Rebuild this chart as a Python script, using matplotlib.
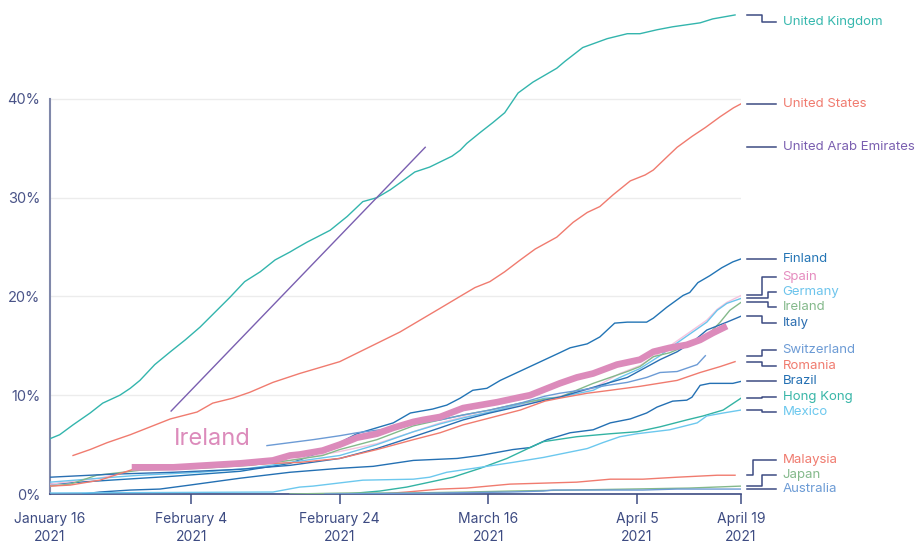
import numpy as np
import matplotlib.pyplot as plt

plt.rcParams['font.family'] = ['Inter', 'DejaVu Sans']

# days since January 16 2021, share of population with a first dose (%)
uk_d = [0, 1.3, 3.1, 5.4, 7.1, 9.4, 10.8, 12.1, 14.1, 16.2, 18.2, 20.2, 22.2, 24.2, 26.2, 28.3,
        30.3, 32.3, 33.2, 34.6, 35.9, 37.7, 40.0, 42.1, 44.0, 45.8, 47.1, 49.1, 51.1, 54.1, 55.2,
        56.1, 57.9, 59.6, 61.2, 63.0, 65.0, 68.2, 69.3, 71.7, 75.0, 77.7, 79.4, 81.7, 83.8, 87.5,
        89.2, 92.2]
uk = [5.6, 6.0, 7.0, 8.2, 9.2, 10.0, 10.7, 11.5, 13.1, 14.4, 15.6, 16.9, 18.4, 19.9, 21.5, 22.5,
      23.7, 24.5, 24.9, 25.5, 26.0, 26.7, 28.1, 29.6, 30.0, 30.8, 31.5, 32.6, 33.1, 34.2, 34.8,
      35.5, 36.6, 37.6, 38.6, 40.6, 41.7, 43.1, 43.8, 45.2, 46.1, 46.6, 46.6, 47.0, 47.3, 47.7,
      48.1, 48.5]

us_d = [3.1, 5.4, 7.7, 10.8, 13.5, 16.2, 19.8, 21.9, 24.6, 26.9, 30.0, 33.6, 36.3, 39.0, 41.7,
        44.4, 47.1, 49.8, 52.5, 55.4, 57.2, 59.2, 61.2, 63.3, 65.3, 68.2, 70.4, 72.3, 74.0, 75.8,
        78.1, 80.1, 81.2, 83.0, 84.4, 86.4, 88.2, 90.2, 92.0, 93.0]
us = [3.9, 4.5, 5.2, 6.0, 6.8, 7.6, 8.3, 9.2, 9.7, 10.3, 11.3, 12.2, 12.8, 13.4, 14.4, 15.4, 16.4,
      17.6, 18.8, 20.1, 20.9, 21.5, 22.5, 23.7, 24.8, 26.0, 27.5, 28.5, 29.1, 30.3, 31.7, 32.3,
      32.8, 34.1, 35.1, 36.2, 37.1, 38.2, 39.1, 39.5]

uae_d = [16.3, 50.5]
uae = [8.4, 35.1]

finland_d = [0, 8.1, 16.6, 25.6, 32.3, 36.7, 41.3, 44.4, 46.2, 48.5, 51.5, 53.4, 55.2, 56.9, 58.8,
             60.6, 64.6, 68.6, 70.0, 72.3, 74.0, 76.0, 77.7, 80.3, 81.2, 83.0, 85.2, 86.1, 87.2,
             88.8, 90.4, 91.9, 93.0]
finland = [1.0, 1.4, 1.8, 2.3, 3.1, 4.3, 6.1, 6.8, 7.2, 8.2, 8.6, 9.0, 9.7, 10.5, 10.7, 11.5, 12.9,
           14.3, 14.8, 15.2, 15.9, 17.3, 17.4, 17.4, 17.8, 18.9, 20.1, 20.4, 21.4, 22.1, 22.9,
           23.5, 23.8]

spain_d = [0, 6.7, 11.2, 16.6, 25.6, 32.3, 39.0, 44.0, 48.9, 52.5, 55.6, 59.2, 63.3, 66.6, 68.6,
           73.1, 76.7, 79.4, 82.1, 84.4, 86.5, 88.4, 89.8, 91.1, 93.0]
spain = [1.0, 1.6, 2.4, 2.6, 2.9, 3.4, 4.3, 5.1, 6.3, 7.2, 7.8, 8.3, 9.0, 9.5, 9.9, 10.7, 12.2,
         13.0, 14.3, 15.5, 16.6, 17.6, 18.7, 19.4, 20.1]

germany_d = [0, 6.7, 12.1, 20.2, 26.9, 32.3, 39.0, 44.0, 48.9, 52.5, 55.6, 59.2, 63.3, 66.6, 68.6,
             73.1, 76.7, 79.4, 82.1, 84.4, 86.5, 88.4, 89.8, 91.1, 93.0]
germany = [1.2, 1.6, 1.9, 2.2, 2.6, 3.2, 3.9, 5.0, 6.3, 7.1, 7.7, 8.3, 9.1, 9.7, 9.8, 10.5, 11.8,
           12.7, 14.0, 15.3, 16.4, 17.4, 18.6, 19.3, 19.8]

ireland_d = [0, 2.7, 6.3, 12.1, 20.2, 26.9, 32.3, 36.7, 39.0, 44.0, 48.9, 52.5, 55.6, 59.2, 63.3,
             66.6, 68.6, 73.1, 77.7, 79.4, 81.2, 83.4, 86.5, 88.8, 90.2, 91.5, 93.0]
ireland = [0.8, 1.0, 1.9, 2.4, 2.6, 2.9, 3.4, 3.9, 4.5, 5.5, 6.9, 7.5, 8.0, 8.5, 9.2, 9.6, 9.8,
           11.2, 12.4, 12.9, 13.9, 14.3, 15.3, 16.3, 17.4, 18.6, 19.4]

italy_d = [0, 8.1, 16.6, 25.6, 32.3, 39.0, 44.0, 48.9, 52.5, 55.6, 59.2, 63.3, 66.6, 68.6, 73.1,
           77.7, 82.1, 84.4, 86.5, 88.4, 91.1, 93.0]
italy = [1.7, 2.0, 2.2, 2.5, 2.9, 3.6, 4.6, 5.8, 6.7, 7.5, 8.2, 8.9, 9.5, 9.8, 10.8, 11.8, 13.6,
         14.4, 15.4, 16.6, 17.4, 18.0]

swiss_d = [29.2, 32.3, 35.4, 39.0, 41.3, 44.4, 48.9, 52.5, 55.6, 59.2, 63.3, 66.6, 68.6, 71.3,
           75.0, 77.7, 80.3, 82.1, 84.4, 87.1, 88.2]
swiss = [4.9, 5.2, 5.5, 5.9, 6.2, 6.5, 7.1, 7.5, 8.0, 8.5, 9.2, 9.9, 10.2, 10.5, 11.0, 11.3, 11.8,
         12.3, 12.4, 13.1, 14.0]

romania_d = [0, 2.7, 6.7, 11.2, 16.6, 21.1, 25.6, 30.0, 33.6, 39.0, 44.0, 48.9, 52.5, 55.6, 59.2,
             63.3, 66.6, 68.6, 72.3, 75.4, 79.4, 84.4, 87.5, 90.2, 92.2]
romania = [0.8, 0.9, 1.4, 2.5, 2.7, 2.8, 2.9, 3.1, 3.2, 3.6, 4.5, 5.5, 6.2, 7.0, 7.7, 8.5, 9.4,
           9.7, 10.2, 10.5, 10.9, 11.5, 12.3, 12.9, 13.4]

brazil_d = [4.4, 6.7, 10.8, 14.8, 18.8, 25.6, 32.3, 39.0, 43.5, 48.9, 54.8, 57.9, 62.3, 64.6,
            66.9, 70.0, 73.1, 75.4, 78.1, 80.3, 81.7, 83.8, 85.7, 86.4, 87.5, 88.8, 91.9, 93.0]
brazil = [0, 0.2, 0.4, 0.5, 0.9, 1.6, 2.2, 2.6, 2.8, 3.4, 3.6, 3.9, 4.5, 4.7, 5.5, 6.2, 6.5, 7.2,
          7.6, 8.2, 8.8, 9.4, 9.5, 9.8, 11.0, 11.2, 11.2, 11.4]

hk_d = [39.7, 41.3, 44.4, 48.0, 51.1, 54.2, 57.9, 61.5, 64.6, 66.4, 70.9, 75.4, 79.0, 82.1, 85.7,
        87.9, 90.6, 93.0]
hk = [0, 0.1, 0.3, 0.7, 1.2, 1.7, 2.6, 3.6, 4.7, 5.3, 5.8, 6.1, 6.3, 6.8, 7.5, 7.9, 8.5, 9.7]

mexico_d = [0, 30.0, 33.6, 35.4, 42.1, 48.9, 51.1, 53.4, 57.9, 62.3, 66.4, 72.3, 74.4, 76.7, 79.0,
            83.4, 87.1, 88.4, 90.6, 93.0]
mexico = [0.1, 0.2, 0.7, 0.8, 1.4, 1.5, 1.7, 2.2, 2.7, 3.2, 3.7, 4.6, 5.2, 5.8, 6.1, 6.5, 7.2, 7.9,
          8.2, 8.5]

malaysia_d = [39.0, 44.4, 48.0, 52.5, 56.1, 61.9, 66.4, 70.9, 75.4, 79.8, 84.4, 89.8, 92.2]
malaysia = [0, 0, 0.2, 0.5, 0.6, 1.0, 1.1, 1.2, 1.5, 1.5, 1.7, 1.9, 1.9]

japan_d = [32.3, 40.0, 48.0, 56.0, 62.0, 70.0, 78.0, 86.0, 93.0]
japan = [0, 0.1, 0.1, 0.2, 0.3, 0.4, 0.5, 0.6, 0.8]

australia_d = [37.0, 52.5, 61.9, 66.4, 67.7, 73.1, 79.8, 84.4, 89.8, 93.0]
australia = [0, 0.1, 0.2, 0.3, 0.4, 0.4, 0.4, 0.5, 0.5, 0.5]

# highlighted Ireland series
irl_d = [11.0, 16.6, 21.1, 25.6, 30.0, 32.3, 33.6, 36.7, 39.0, 41.3, 44.0, 46.2, 48.9, 50.2, 52.5,
         55.6, 57.9, 60.2, 63.3, 64.6, 68.6, 70.9, 73.1, 76.3, 79.4, 81.2, 83.4, 85.7, 87.5, 89.2,
         91.1]
irl = [2.7, 2.7, 2.9, 3.1, 3.4, 3.9, 4.0, 4.4, 5.0, 5.7, 6.1, 6.7, 7.3, 7.5, 7.8, 8.7, 9.0, 9.3,
       9.8, 10.0, 11.2, 11.8, 12.2, 13.1, 13.6, 14.4, 14.8, 15.1, 15.6, 16.3, 17.0]

names = ['United Kingdom', 'United States', 'United Arab Emirates', 'Finland', 'Spain', 'Germany',
         'Ireland', 'Italy', 'Switzerland', 'Romania', 'Brazil', 'Hong Kong', 'Mexico',
         'Malaysia', 'Japan', 'Australia']
series = [(uk_d, uk), (us_d, us), (uae_d, uae), (finland_d, finland), (spain_d, spain),
          (germany_d, germany), (ireland_d, ireland), (italy_d, italy), (swiss_d, swiss),
          (romania_d, romania), (brazil_d, brazil), (hk_d, hk), (mexico_d, mexico),
          (malaysia_d, malaysia), (japan_d, japan), (australia_d, australia)]
line_colors = ['#33b5ad', '#f07b6f', '#7a5fb0', '#2274b5', '#f5c3de', '#6cc4ec', '#84b98b',
               '#2a6fb2', '#6c9bd5', '#f07b6f', '#2470b3', '#33b3a3', '#6cc8ee', '#f07b6f',
               '#84b98b', '#6c9bd5']
text_colors = ['#37b8ae', '#f07b6f', '#7a5fb0', '#2475b5', '#e58cbf', '#6cc4ec', '#84b98b',
               '#2a6db0', '#6c9bd5', '#f07b6f', '#2470b3', '#39b6a8', '#6cc8ee', '#f07b6f',
               '#84b98b', '#6c9bd5']
# where the right-hand labels sit (%), and where each leader line steps
label_y = [47.8, 39.5, 35.1, 23.8, 22.0, 20.5, 18.9, 17.3, 14.6, 13.0, 11.4, 9.8, 8.3, 3.4, 1.9, 0.5]
elbow_x = [95.8, 95.8, 95.8, 95.8, 95.8, 96.6, 96.6, 95.8, 95.8, 95.8, 95.8, 95.8, 95.8, 94.6,
           95.8, 95.8]

tick_days = [0, 19, 39, 59, 79, 93]
tick_labels = ['January 16\n2021', 'February 4\n2021', 'February 24\n2021', 'March 16\n2021',
               'April 5\n2021', 'April 19\n2021']

navy = '#3d4b82'

fig = plt.figure(figsize=(9.22, 5.44), dpi=100)
ax = fig.add_axes([50 / 922, 50 / 544, 691 / 922, 484 / 544])
ax.set_xlim(0, 93)
ax.set_ylim(0, 49)

for (d, v), c in zip(series, line_colors):
    ax.plot(d, v, color=c, lw=1.0, zorder=3)

ax.plot(irl_d, irl, color='#dc8bbb', lw=4.8, solid_capstyle='butt', zorder=4)
ax.text(21.9, 5.6, 'Ireland', color='#dc8bbb', fontsize=17, ha='center', va='center')

# leader lines and country labels on the right
for (d, v), name, tc, ly, ex in zip(series, names, text_colors, label_y, elbow_x):
    y0 = v[-1]
    ax.plot([93.8, ex, ex, 97.7], [y0, y0, ly, ly], color=navy, lw=1.1, clip_on=False, zorder=2)
    ax.text(98.6, ly, name, color=tc, fontsize=9.5, va='center', ha='left')

ax.set_yticks([0, 10, 20, 30, 40])
ax.set_yticklabels(['0%', '10%', '20%', '30%', '40%'])
ax.grid(axis='y', color='#ececec', lw=1.0)
ax.set_axisbelow(True)
ax.tick_params(axis='y', length=0, pad=7, labelsize=10.5, labelcolor='#4a5488')

ax.set_xticks(tick_days)
ax.set_xticklabels(tick_labels, linespacing=1.35)
ax.tick_params(axis='x', length=7, width=1.1, color=navy, pad=6, labelsize=10, labelcolor=navy)
ax.xaxis.get_major_ticks()[0].tick1line.set_visible(False)

for s in ['top', 'right']:
    ax.spines[s].set_visible(False)
ax.spines['left'].set_bounds(0, 40)
ax.spines['left'].set_color('#8088aa')
ax.spines['left'].set_linewidth(1.5)
ax.spines['bottom'].set_color(navy)
ax.spines['bottom'].set_linewidth(1.2)

fig.savefig('out.png', dpi=100)
